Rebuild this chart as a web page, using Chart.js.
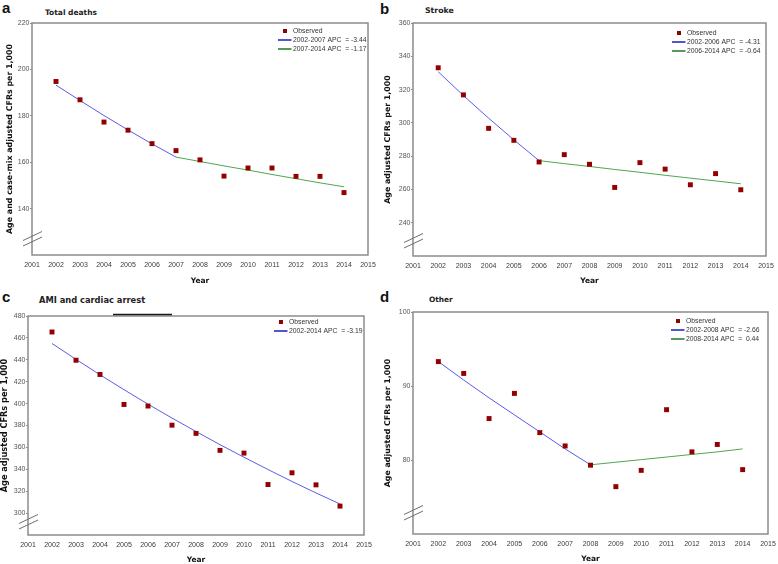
<!DOCTYPE html>
<html><head><meta charset="utf-8">
<script src="https://cdn.jsdelivr.net/npm/chart.js@4.4.1/dist/chart.umd.min.js"></script>
<style>
html,body{margin:0;padding:0;background:#fff;}
body{width:778px;height:564px;position:relative;overflow:hidden;}
canvas{position:absolute;}
.lt{position:absolute;font-family:"Liberation Sans",Arial,sans-serif;font-weight:bold;font-size:15px;line-height:15px;color:#111;}
.tt{position:absolute;font-family:"DejaVu Sans",sans-serif;font-weight:bold;color:#222;white-space:nowrap;}
</style></head><body>
<div class="lt" style="left:2px;top:0px;">a</div>
<div class="lt" style="left:380px;top:1px;">b</div>
<div class="lt" style="left:2px;top:289px;">c</div>
<div class="lt" style="left:380px;top:289px;">d</div>
<div class="tt" id="t0"></div><div class="tt" id="t1"></div><div class="tt" id="t2"></div><div class="tt" id="t3"></div>
<canvas id="c0" width="380" height="290"></canvas>
<canvas id="c1" width="398" height="290"></canvas>
<canvas id="c2" width="380" height="274"></canvas>
<canvas id="c3" width="398" height="274"></canvas>
<script>
// ---------------- data ----------------
const years = [2002,2003,2004,2005,2006,2007,2008,2009,2010,2011,2012,2013,2014];
const xTicks = [2001,2002,2003,2004,2005,2006,2007,2008,2009,2010,2011,2012,2013,2014,2015];

const totalTitle = 'Total deaths';
const totalObserved = [194.8,186.9,177.3,173.8,168.0,165.0,161.0,154.0,157.5,157.5,153.9,153.9,146.9];
const totalFitted   = [193.2,186.6,180.1,173.9,167.9,162.2,160.3,158.4,156.6,154.7,152.9,151.1,149.4];
const totalJoinYear = 2007;
const totalYTicks = [140,160,180,200,220];
const totalYRange = [120,220];
const totalLegend = ['Observed','2002-2007 APC  = -3.44','2007-2014 APC  = -1.17'];

const strokeTitle = 'Stroke';
const strokeObserved = [333.1,316.8,296.7,289.5,276.5,280.9,275.1,261.2,276.1,272.2,262.8,269.5,259.8];
const strokeFitted   = [330.7,316.4,302.8,289.8,277.3,275.5,273.8,272.0,270.3,268.5,266.8,265.1,263.4];
const strokeJoinYear = 2006;
const strokeYTicks = [240,260,280,300,320,340,360];
const strokeYRange = [220,360];
const strokeLegend = ['Observed','2002-2006 APC  = -4.31','2006-2014 APC  = -0.64'];

const amiTitle = 'AMI and cardiac arrest';
const amiObserved = [465.4,439.6,426.6,399.2,397.8,380.3,372.8,357.3,354.8,326.1,336.8,325.8,306.4];
const amiFitted   = [454.9,440.4,426.3,412.7,399.5,386.8,374.5,362.5,351.0,339.8,328.9,318.4,308.3];
const amiJoinYear = null;
const amiYTicks = [300,320,340,360,380,400,420,440,460,480];
const amiYRange = [280,480];
const amiLegend = ['Observed','2002-2014 APC  = -3.19'];

const otherTitle = 'Other';
const otherObserved = [93.3,91.7,85.6,89.0,83.7,81.9,79.3,76.4,78.6,86.8,81.1,82.1,78.7];
const otherFitted   = [93.3,90.8,88.4,86.1,83.8,81.5,79.35,79.7,80.05,80.4,80.75,81.1,81.5];
const otherJoinYear = 2008;
const otherYTicks = [80,90,100];
const otherYRange = [70,100];
const otherLegend = ['Observed','2002-2008 APC  = -2.66','2008-2014 APC  =  0.44'];

const yTitleA = 'Age and case-mix adjusted CFRs per 1,000';
const yTitleB = 'Age adjusted CFRs per 1,000';
const xTitle = 'Year';

// ---------------- styles / layout ----------------
const COL_OBS = '#930000', COL_BLUE = '#5b5be8', COL_GREEN = '#4fa64f';
const COL_BLUE_LEG = '#2a2ac8', COL_GREEN_LEG = '#2f7f2f';

const panels = [
  {title:totalTitle, obs:totalObserved, fit:totalFitted, join:totalJoinYear, yt:totalYTicks, yr:totalYRange, leg:totalLegend, ytitle:yTitleA,
   canvas:[0,0,380,290], area:[32,23,368,255], yTitleX:10, yTitleSize:7.9, xTitleY:281, titlePos:[45,12.5,7.5],
   legPos:[90,8], brk:9, artifact:null},
  {title:strokeTitle, obs:strokeObserved, fit:strokeFitted, join:strokeJoinYear, yt:strokeYTicks, yr:strokeYRange, leg:strokeLegend, ytitle:yTitleB,
   canvas:[380,0,398,290], area:[413,23,766,256], yTitleX:388, yTitleSize:7.9, xTitleY:281, titlePos:[425,10.5,7.8],
   legPos:[94,10], brk:8, artifact:null},
  {title:amiTitle, obs:amiObserved, fit:amiFitted, join:amiJoinYear, yt:amiYTicks, yr:amiYRange, leg:amiLegend, ytitle:yTitleB,
   canvas:[0,290,380,274], area:[28,316,364,535], yTitleX:5, yTitleSize:8.2, xTitleY:560, titlePos:[39,300.5,8.3],
   legPos:[90,6], brk:6, artifact:[113,172,314.5]},
  {title:otherTitle, obs:otherObserved, fit:otherFitted, join:otherJoinYear, yt:otherYTicks, yr:otherYRange, leg:otherLegend, ytitle:yTitleB,
   canvas:[380,290,398,274], area:[413,312,768,534], yTitleX:388, yTitleSize:7.9, xTitleY:559, titlePos:[429,299.5,7.4],
   legPos:[97,9], brk:14, artifact:null}
];

const decor = {
  id:'decor',
  afterDraw(chart, args, o) {
    const ctx = chart.ctx;
    const {left:L, top:T, right:R, bottom:B} = chart.chartArea;
    ctx.save();
    // frame
    ctx.strokeStyle = '#8c8c8c'; ctx.lineWidth = 1.5;
    ctx.strokeRect(L, T, R - L, B - T);
    // axis break marks
    ctx.strokeStyle = '#6e6e6e'; ctx.lineWidth = 1;
    for (const d of [0, 5.5]) {
      ctx.beginPath();
      ctx.moveTo(L - 9, B - o.brk - d);
      ctx.lineTo(L + 10, B - o.brk - d - 9);
      ctx.stroke();
    }
    // artifact line
    if (o.artifact) {
      const [x1, x2, y] = o.artifact;
      const cx = chart.canvas.offsetLeft, cy = chart.canvas.offsetTop;
      ctx.strokeStyle = '#1a1a1a'; ctx.lineWidth = 1.6;
      ctx.beginPath(); ctx.moveTo(x1 - cx, y - cy); ctx.lineTo(x2 - cx, y - cy); ctx.stroke();
    }
    // legend
    const lx = R - o.legPos[0];
    let ly = T + o.legPos[1];
    ctx.font = '6.8px "Liberation Sans", Arial, sans-serif';
    ctx.textBaseline = 'middle'; ctx.textAlign = 'left';
    o.items.forEach((it) => {
      if (it.kind === 'marker') {
        ctx.fillStyle = COL_OBS;
        ctx.fillRect(lx + 5, ly - 2, 4, 4);
      } else {
        ctx.strokeStyle = it.color; ctx.lineWidth = 1.6;
        ctx.beginPath(); ctx.moveTo(lx, ly); ctx.lineTo(lx + 13.5, ly); ctx.stroke();
      }
      ctx.fillStyle = '#333';
      ctx.fillText(it.text, lx + 15, ly + 0.5);
      ly += 9;
    });
    ctx.restore();
  }
};

panels.forEach((p, i) => {
  const [cx, cy, cw, ch] = p.canvas;
  const [L, T, R, B] = p.area;
  const cv = document.getElementById('c' + i);
  cv.style.left = cx + 'px'; cv.style.top = cy + 'px';
  const t = document.getElementById('t' + i);
  t.textContent = p.title;
  t.style.fontSize = p.titlePos[2] + 'px';
  t.style.lineHeight = p.titlePos[2] + 'px';
  t.style.left = p.titlePos[0] + 'px';
  t.style.top = (p.titlePos[1] - p.titlePos[2] / 2) + 'px';

  const obsPts = years.map((y, k) => ({x: y, y: p.obs[k]}));
  const fitPts = years.map((y, k) => ({x: y, y: p.fit[k]}));
  const datasets = [{type:'scatter', data: obsPts, pointStyle:'rect', pointRadius:3.5, backgroundColor: COL_OBS, borderColor: COL_OBS, borderWidth:0}];
  const items = [{kind:'marker', text:p.leg[0]}];
  if (p.join) {
    datasets.push({type:'line', data: fitPts.filter(d => d.x <= p.join), borderColor: COL_BLUE, borderWidth:1, pointRadius:0, fill:false});
    datasets.push({type:'line', data: fitPts.filter(d => d.x >= p.join), borderColor: COL_GREEN, borderWidth:1, pointRadius:0, fill:false});
    items.push({kind:'line', color: COL_BLUE_LEG, text:p.leg[1]});
    items.push({kind:'line', color: COL_GREEN_LEG, text:p.leg[2]});
  } else {
    datasets.push({type:'line', data: fitPts, borderColor: COL_BLUE, borderWidth:1, pointRadius:0, fill:false});
    items.push({kind:'line', color: COL_BLUE_LEG, text:p.leg[1]});
  }
  const yLH = p.yTitleSize * 1.2;
  const xLH = 7.5 * 1.2;
  new Chart(cv, {
    data: {datasets},
    options: {
      responsive:false, animation:false, events:[],
      layout: {padding: {left:0, top: T - cy, right: (cx + cw) - R, bottom:0}},
      plugins: {legend:{display:false}, tooltip:{enabled:false}, decor:{items, legPos:p.legPos, brk:p.brk, artifact:p.artifact}},
      scales: {
        x: {type:'linear', position:'bottom', min: xTicks[0], max: xTicks[xTicks.length-1],
            afterBuildTicks: s => { s.ticks = xTicks.map(v => ({value:v})); },
            afterFit: s => { s.height = (cy + ch) - B; s.paddingLeft = 0; s.paddingRight = 0; },
            grid:{display:false, drawTicks:false}, border:{display:false},
            ticks:{padding:5.8, color:'#3a3a3a', font:{family:'"Liberation Sans", Arial, sans-serif', size:7}, callback: v => String(v), maxRotation:0, autoSkip:false},
            title:{display:true, text:xTitle, color:'#111', font:{family:'"DejaVu Sans", sans-serif', weight:'bold', size:7.5},
                   padding:{top:0, bottom: (cy + ch) - p.xTitleY - xLH / 2}}},
        y: {type:'linear', position:'left', min: p.yr[0], max: p.yr[1],
            afterBuildTicks: s => { s.ticks = p.yt.map(v => ({value:v})); },
            afterFit: s => { s.width = L - cx; s.paddingTop = 0; s.paddingBottom = 0; },
            grid:{display:true, drawOnChartArea:false, drawTicks:true, tickLength:2, color:'#8c8c8c'}, border:{display:false},
            ticks:{padding:0.5, color:'#555', font:{family:'"Liberation Sans", Arial, sans-serif', size:7}, callback: v => String(v), autoSkip:false},
            title:{display:true, text:p.ytitle, color:'#111', font:{family:'"DejaVu Sans", sans-serif', weight:'bold', size:p.yTitleSize},
                   padding:{top: p.yTitleX - cx - yLH / 2, bottom:0}}}
      }
    },
    plugins:[decor]
  });
});
</script>
</body></html>
